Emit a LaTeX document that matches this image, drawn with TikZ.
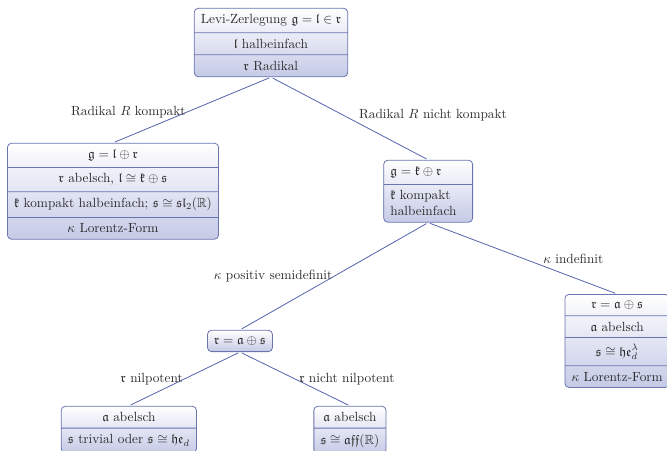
\documentclass[tikz,border=0pt]{standalone}
\usepackage{amsmath,amssymb}
\usepackage{tikz}
\usetikzlibrary{shapes.multipart,positioning}
\definecolor{boxLine}{HTML}{6A74B0}
\definecolor{boxFill}{HTML}{C5CAE6}
\definecolor{edgeLine}{HTML}{5463AE}
\definecolor{nInk}{HTML}{2B2B2B}
\tikzset{
  levibox/.style={rectangle split, draw=boxLine, line width=0.6pt, rounded corners=3pt,
    top color=white, bottom color=boxFill, inner xsep=5pt, inner ysep=4.4pt,
    text=nInk, anchor=north},
  narrowbox/.style={levibox, text width=2cm, align=left},
  branch/.style={draw=edgeLine, line width=0.6pt, shorten <=1.5pt, shorten >=1.5pt},
  caselabel/.style={inner sep=1pt, text=nInk},
}
\newcommand{\fr}[1]{\mathfrak{#1}}

\begin{document}
\begin{tikzpicture}
  \clip (0,0) rectangle (17.65,11.93);
  % Knoten
  \node[levibox, rectangle split parts=3] (levi) at (7.17,11.72)
    {Levi-Zerlegung $\fr g = \fr l \in \fr r$
     \nodepart{two} $\fr l$ halbeinfach
     \nodepart{three} $\fr r$ Radikal};
  \node[levibox, rectangle split parts=4] (kompakt) at (2.99,8.15)
    {$\fr g = \fr l \oplus \fr r$
     \nodepart{two} $\fr r$ abelsch, $\fr l \cong \fr k \oplus \fr s$
     \nodepart{three} $\fr k$ kompakt halbeinfach; $\fr s \cong \fr{sl}_2(\mathbb{R})$
     \nodepart{four} $\kappa$ Lorentz-Form};
  \node[narrowbox, rectangle split parts=2] (nkompakt) at (11.33,7.70)
    {$\fr g = \fr k \oplus \fr r$
     \nodepart{two} $\fr k$ kompakt\\halbeinfach};
  \node[levibox, rectangle split parts=1] (semidef) at (6.35,3.20)
    {$\fr r = \fr a \oplus \fr s$};
  \node[levibox, rectangle split parts=4] (indef) at (16.33,4.15)
    {$\fr r = \fr a \oplus \fr s$
     \nodepart{two} $\fr a$ abelsch
     \nodepart{three} $\fr s \cong \fr{he}_d^\lambda$
     \nodepart{four} $\kappa$ Lorentz-Form};
  \node[levibox, rectangle split parts=2] (nilp) at (3.41,1.19)
    {$\fr a$ abelsch
     \nodepart{two} $\fr s$ trivial oder $\fr s \cong \fr{he}_d$};
  \node[levibox, rectangle split parts=2] (nnilp) at (9.26,1.19)
    {$\fr a$ abelsch
     \nodepart{two} $\fr s \cong \fr{aff}(\mathbb{R})$};
  % Kanten
  \draw[branch] (levi.south) -- node[caselabel, pos=0.53, anchor=east] {Radikal $R$ kompakt} (kompakt.north);
  \draw[branch] (levi.south) -- node[caselabel, pos=0.55, anchor=south west] {Radikal $R$ nicht kompakt} (nkompakt.north);
  \draw[branch] (nkompakt.south) -- node[caselabel, pos=0.5, anchor=east] {$\kappa$ positiv semidefinit} (semidef.north);
  \draw[branch] (nkompakt.south) -- node[caselabel, pos=0.6, anchor=south west] {$\kappa$ indefinit} (indef.north);
  \draw[branch] (semidef.south) -- node[caselabel, pos=0.5, anchor=east] {$\fr r$ nilpotent} (nilp.north);
  \draw[branch] (semidef.south) -- node[caselabel, pos=0.5, anchor=west, xshift=2pt] {$\fr r$ nicht nilpotent} (nnilp.north);
\end{tikzpicture}
\end{document}
